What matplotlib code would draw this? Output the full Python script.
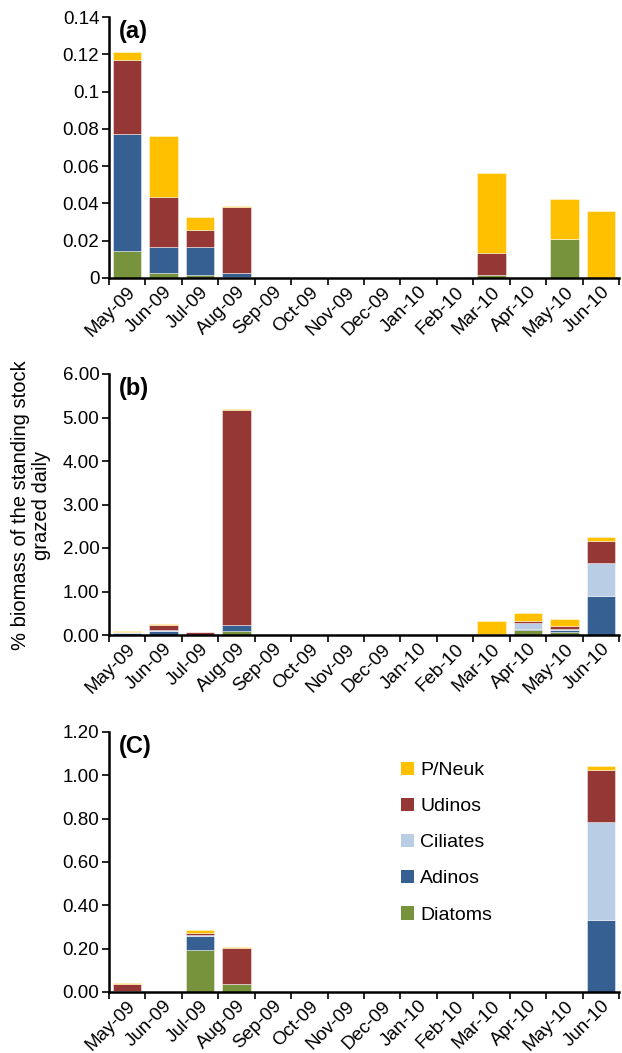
import matplotlib
matplotlib.use("Agg")
import matplotlib.pyplot as plt
import numpy as np
from matplotlib.patches import Patch

plt.rcParams['font.family'] = ['Liberation Sans', 'DejaVu Sans']

months = ['May-09', 'Jun-09', 'Jul-09', 'Aug-09', 'Sep-09', 'Oct-09', 'Nov-09',
          'Dec-09', 'Jan-10', 'Feb-10', 'Mar-10', 'Apr-10', 'May-10', 'Jun-10']
groups = ['Diatoms', 'Adinos', 'Ciliates', 'Udinos', 'P/Neuk']
colors = ['#77933C', '#376092', '#B9CDE5', '#953735', '#FFC000']

# Panel (a)
a_diatoms = [0.0145, 0.0027, 0.0016, 0.0005, 0, 0, 0, 0, 0, 0, 0.0016, 0, 0.0207, 0]
a_adinos = [0.0625, 0.0139, 0.0150, 0.0020, 0, 0, 0, 0, 0, 0, 0, 0, 0, 0]
a_ciliates = [0, 0, 0, 0, 0, 0, 0, 0, 0, 0, 0, 0, 0, 0]
a_udinos = [0.0400, 0.0270, 0.0093, 0.0357, 0, 0, 0, 0, 0, 0, 0.0120, 0, 0, 0]
a_pneuk = [0.0040, 0.0328, 0.0068, 0.0004, 0, 0, 0, 0, 0, 0, 0.0427, 0, 0.0215, 0.0357]

# Panel (b)
b_diatoms = [0.010, 0.010, 0.000, 0.085, 0, 0, 0, 0, 0, 0, 0.000, 0.115, 0.077, 0.000]
b_adinos = [0.025, 0.075, 0.010, 0.155, 0, 0, 0, 0, 0, 0, 0.000, 0.031, 0.038, 0.906]
b_ciliates = [0.030, 0.030, 0.000, 0.000, 0, 0, 0, 0, 0, 0, 0.000, 0.130, 0.023, 0.744]
b_udinos = [0.010, 0.105, 0.050, 4.940, 0, 0, 0, 0, 0, 0, 0.030, 0.054, 0.077, 0.520]
b_pneuk = [0.010, 0.040, 0.005, 0.020, 0, 0, 0, 0, 0, 0, 0.300, 0.176, 0.161, 0.080]

# Panel (c)
c_diatoms = [0.003, 0, 0.195, 0.0385, 0, 0, 0, 0, 0, 0, 0, 0, 0, 0.000]
c_adinos = [0.000, 0, 0.065, 0.000, 0, 0, 0, 0, 0, 0, 0, 0, 0, 0.334]
c_ciliates = [0.000, 0, 0.003, 0.000, 0, 0, 0, 0, 0, 0, 0, 0, 0, 0.452]
c_udinos = [0.035, 0, 0.009, 0.1645, 0, 0, 0, 0, 0, 0, 0, 0, 0, 0.240]
c_pneuk = [0.003, 0, 0.013, 0.003, 0, 0, 0, 0, 0, 0, 0, 0, 0, 0.017]

a_ticks = [0, 0.02, 0.04, 0.06, 0.08, 0.1, 0.12, 0.14]
a_ticklabels = ['0', '0.02', '0.04', '0.06', '0.08', '0.1', '0.12', '0.14']
b_ticks = [0, 1, 2, 3, 4, 5, 6]
c_ticks = [0, 0.2, 0.4, 0.6, 0.8, 1.0, 1.2]

W, H = 622, 1053
fig = plt.figure(figsize=(W / 100, H / 100), dpi=100)

def rect(left, top, right, bottom):
    return [left / W, 1 - bottom / H, (right - left) / W, (bottom - top) / H]

axes_specs = [
    (rect(109, 17, 619, 278), [a_diatoms, a_adinos, a_ciliates, a_udinos, a_pneuk],
     a_ticks, a_ticklabels, '(a)'),
    (rect(109, 374, 619, 635), [b_diatoms, b_adinos, b_ciliates, b_udinos, b_pneuk],
     b_ticks, ['%.2f' % t for t in b_ticks], '(b)'),
    (rect(109, 732, 619, 992), [c_diatoms, c_adinos, c_ciliates, c_udinos, c_pneuk],
     c_ticks, ['%.2f' % t for t in c_ticks], '(C)'),
]

x = np.arange(len(months))
fs = 13.5
axs = []
for pos, series, yt, ytl, lab in axes_specs:
    ax = fig.add_axes(pos)
    bottom = np.zeros(len(months))
    for vals, col in zip(series, colors):
        v = np.array(vals, dtype=float)
        ax.bar(x, v, bottom=bottom, width=0.78, color=col,
               edgecolor=(1, 1, 1, 0.6), linewidth=0.5)
        bottom += v
    ax.set_xlim(-0.5, len(months) - 0.5)
    ax.set_ylim(yt[0], yt[-1])
    ax.set_yticks(yt)
    ax.set_yticklabels(ytl, fontsize=fs)
    ax.set_xticks(x)
    ax.set_xticklabels(months, rotation=45, ha='right', rotation_mode='anchor',
                       fontsize=fs)
    ax.tick_params(axis='x', which='major', length=0, pad=4)
    ax.set_xticks(np.arange(len(months) + 1) - 0.5, minor=True)
    ax.tick_params(axis='x', which='minor', length=5, width=1.2, direction='out')
    ax.tick_params(axis='y', length=5, width=1.2, direction='out', pad=2)
    for s in ['top', 'right']:
        ax.spines[s].set_visible(False)
    for s in ['left', 'bottom']:
        ax.spines[s].set_linewidth(1.8)
    ax.text(0.02, 0.99, lab, transform=ax.transAxes, fontsize=17,
            fontweight='bold', va='top', ha='left')
    axs.append(ax)

fig.text(31 / W, 1 - 505 / H, '% biomass of the standing stock\ngrazed daily',
         rotation=90, ha='center', va='center', fontsize=14.5, linespacing=1.15)

handles = [Patch(facecolor=c, edgecolor='none') for c in colors][::-1]
labels = groups[::-1]
leg = axs[2].legend(handles, labels, loc='upper left',
                    bbox_to_anchor=(385 / W, 1 - 746 / H), bbox_transform=fig.transFigure,
                    frameon=False, fontsize=14, handlelength=0.7, handleheight=0.7,
                    handletextpad=0.3, labelspacing=0.95, borderpad=0.3)

fig.savefig('out.png', dpi=100)
